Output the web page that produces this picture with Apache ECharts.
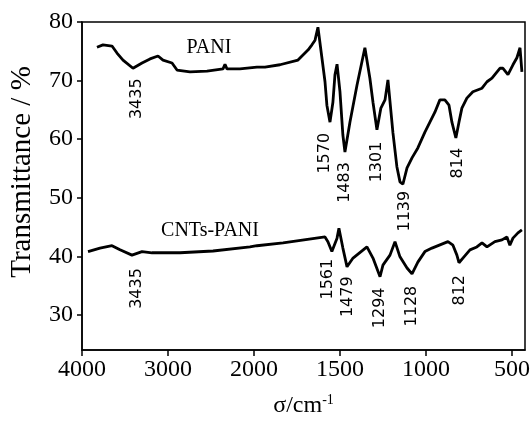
<!DOCTYPE html>
<html>
<head>
<meta charset="utf-8">
<script src="https://cdn.jsdelivr.net/npm/echarts@6/dist/echarts.min.js"></script>
<style>
  html, body { margin: 0; padding: 0; background: #fff; }
  #container { width: 530px; height: 424px; }
</style>
</head>
<body>
<div id="container"></div>
<script>
// wavenumber (cm-1) and transmittance (%)
let paniWn = [3826, 3756, 3651, 3593, 3523, 3407, 3302, 3209, 3116, 3058, 2953, 2895, 2744, 2546, 2360, 2337, 2314, 2163,
  1983, 1936, 1849, 1744, 1686, 1663, 1645, 1628, 1605, 1587, 1576, 1558, 1541, 1529, 1517, 1500, 1483, 1471, 1442,
  1401, 1355, 1326, 1308, 1285, 1262, 1238, 1221, 1192, 1169, 1151, 1134, 1110, 1081, 1047, 1006, 977, 948, 919, 890,
  866, 849, 826, 808, 791, 762, 727, 674, 645, 616, 570, 552, 523, 494, 471, 453, 442];
let paniT = [75.7, 76.1, 75.9, 74.7, 73.5, 72.1, 73.0, 73.7, 74.2, 73.5, 73.0, 71.8, 71.5, 71.6, 72.0, 72.8, 72.0, 72.0,
  72.3, 72.3, 72.7, 73.5, 75.2, 76.1, 76.9, 79.1, 73.9, 69.8, 65.8, 62.9, 66.3, 71.0, 72.8, 68.1, 60.7, 57.8, 62.9,
  69.2, 75.6, 70.4, 66.3, 61.6, 65.3, 66.7, 70.1, 61.1, 55.3, 52.7, 52.3, 55.1, 56.8, 58.5, 61.2, 62.9, 64.6, 66.7, 66.7,
  65.8, 62.9, 60.2, 62.9, 65.3, 67.0, 68.1, 68.7, 69.8, 70.4, 72.1, 72.1, 71.0, 72.7, 73.9, 75.6, 71.5];

let cntWn = [3930, 3791, 3651, 3558, 3419, 3302, 3186, 2860, 2476, 2047, 1983, 1831, 1587, 1570, 1547, 1517, 1506, 1483,
  1459, 1424, 1343, 1308, 1267, 1250, 1238, 1209, 1180, 1151, 1110, 1081, 1047, 1006, 965, 872, 843, 820, 808, 785,
  744, 704, 674, 645, 599, 558, 529, 512, 494, 465, 442];
let cntT = [40.8, 41.4, 41.8, 41.1, 40.2, 40.8, 40.6, 40.6, 40.9, 41.6, 41.8, 42.3, 43.3, 42.5, 40.8, 43.1, 44.8, 41.4,
  38.2, 39.7, 41.6, 39.7, 36.5, 38.5, 39.0, 40.2, 42.5, 39.9, 38.0, 37.0, 39.0, 40.8, 41.4, 42.5, 41.9, 40.2, 38.9, 39.7,
  41.1, 41.6, 42.3, 41.6, 42.5, 42.8, 43.3, 41.9, 43.1, 44.0, 44.5];

// peak annotations: [wavenumber, transmittance at label centre, text]
let paniPeaks = [[3360, 66.9, "3435"], [1587, 57.6, "1570"], [1471, 52.6, "1483"], [1285, 56.1, "1301"],
  [1122, 47.7, "1139"], [814, 55.9, "814"]];
let cntPeaks = [[3360, 34.5, "3435"], [1570, 36.1, "1561"], [1453, 33.1, "1479"], [1267, 31.2, "1294"],
  [1081, 31.5, "1128"], [802, 34.2, "812"]];

let xTicks = [4000, 3000, 2000, 1500, 1000, 500];
let yTicks = [30, 40, 50, 60, 70, 80];

// axis is compressed 2x above 2000 cm-1
function toAxis(wn) { return wn > 2000 ? 2000 + (wn - 2000) / 2 : wn; }
function fromAxis(v) { return v > 2000 ? 2000 + (v - 2000) * 2 : v; }

function pairs(wn, t) { return wn.map((w, i) => [toAxis(w), t[i]]); }
function peakMarks(list) {
  return list.map((p) => ({ coord: [toAxis(p[0]), p[1]], value: p[2] }));
}

let serif = "Liberation Serif";
let peakStyle = {
  symbol: "circle",
  symbolSize: 0,
  label: {
    show: true,
    position: "inside",
    rotate: 90,
    formatter: (p) => p.value,
    color: "#000",
    fontFamily: "DejaVu Sans",
    fontSize: 16,
  },
};

let dom = document.getElementById("container");
let myChart = echarts.init(dom, null, { renderer: "canvas" });
let option = {
  animation: false,
  grid: {
    left: 82, top: 22, right: 5, bottom: 74,
    outerBoundsMode: "none",
    show: true, borderColor: "#000", borderWidth: 1.5,
  },
  xAxis: {
    type: "value",
    inverse: true,
    min: toAxis(424),
    max: toAxis(4000),
    name: "{a|σ/cm}{b|-1}",
    nameLocation: "middle",
    nameGap: 43,
    nameTextStyle: {
      rich: {
        a: { fontFamily: serif, fontSize: 24, color: "#000" },
        b: { fontFamily: serif, fontSize: 14, color: "#000", padding: [0, 0, 12, 0] },
      },
    },
    axisLine: { lineStyle: { color: "#000", width: 1.5 } },
    axisTick: { customValues: xTicks.map(toAxis), length: 6, lineStyle: { color: "#000", width: 1.5 } },
    axisLabel: {
      customValues: xTicks.map(toAxis),
      formatter: (v) => String(fromAxis(v)),
      fontFamily: serif,
      fontSize: 24,
      color: "#000",
      margin: 8,
    },
    splitLine: { show: false },
  },
  yAxis: {
    type: "value",
    min: 24,
    max: 80,
    axisLine: { lineStyle: { color: "#000", width: 1.5 } },
    axisTick: { customValues: yTicks, length: 5, lineStyle: { color: "#000", width: 1.5 } },
    axisLabel: { customValues: yTicks, fontFamily: serif, fontSize: 24, color: "#000", margin: 9 },
    splitLine: { show: false },
  },
  graphic: [
    {
      type: "text", x: 22, y: 172, rotation: Math.PI / 2,
      style: { text: "Transmittance / %", font: "29px 'Liberation Serif'", fill: "#000", align: "center", verticalAlign: "middle" },
    },
    {
      type: "text", x: 209, y: 48,
      style: { text: "PANI", font: "20px 'Liberation Serif'", fill: "#000", align: "center", verticalAlign: "middle" },
    },
    {
      type: "text", x: 210, y: 231,
      style: { text: "CNTs-PANI", font: "20px 'Liberation Serif'", fill: "#000", align: "center", verticalAlign: "middle" },
    },
  ],
  series: [
    {
      name: "PANI",
      type: "line",
      data: pairs(paniWn, paniT),
      showSymbol: false,
      lineStyle: { color: "#000", width: 2.8 },
      markPoint: Object.assign({ data: peakMarks(paniPeaks) }, peakStyle),
    },
    {
      name: "CNTs-PANI",
      type: "line",
      data: pairs(cntWn, cntT),
      showSymbol: false,
      lineStyle: { color: "#000", width: 2.8 },
      markPoint: Object.assign({ data: peakMarks(cntPeaks) }, peakStyle),
    },
  ],
};

if (option && typeof option === "object") {
  myChart.setOption(option);
}

window.addEventListener("resize", myChart.resize);
</script>
</body>
</html>
